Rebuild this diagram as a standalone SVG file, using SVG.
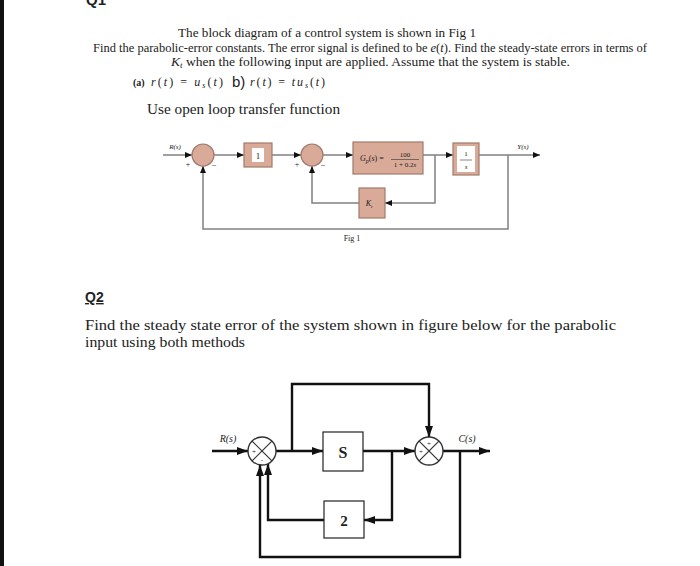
<svg xmlns="http://www.w3.org/2000/svg" width="700" height="566" viewBox="0 0 700 566">
<style>
  .t { font-family: "Liberation Serif", "Times New Roman", serif; fill: #222; }
  .it { font-style: italic; }
  .b { font-weight: bold; }
  .sans { font-family: "Liberation Sans", Arial, sans-serif; }
  .f1line { stroke: #808080; stroke-width: 1.5; fill: none; }
  .f1blk { fill: #d9aa98; stroke: #a07a6c; stroke-width: 1.2; }
  .f1in { fill: #ffffff; stroke: none; }
  .q2line { stroke: #111; stroke-width: 2.4; fill: none; }
  .q2blk { fill: #ffffff; stroke: #222; stroke-width: 1.2; }
  .q2sum { fill: #ffffff; stroke: #333; stroke-width: 1.4; }
</style>
<defs>
  <marker id="a1" markerUnits="userSpaceOnUse" markerWidth="7" markerHeight="6" refX="7" refY="3" orient="auto">
    <path d="M0,0 L7,3 L0,6 z" fill="#111"/>
  </marker>
  <marker id="a2" markerUnits="userSpaceOnUse" markerWidth="11" markerHeight="8" refX="11" refY="4" orient="auto">
    <path d="M0,0 L11,4 L0,8 z" fill="#111"/>
  </marker>
</defs>
<rect x="0" y="0" width="700" height="566" fill="#ffffff"/>
<rect x="0" y="0" width="4" height="566" fill="#111"/>

<!-- Q1 text -->
<text class="t b sans" x="86" y="5" font-size="15">Q1</text>
<text class="t" x="178" y="37" font-size="12" textLength="298" lengthAdjust="spacingAndGlyphs">The block diagram of a control system is shown in Fig 1</text>
<text class="t" x="93" y="52" font-size="12" textLength="554" lengthAdjust="spacingAndGlyphs">Find the parabolic-error constants. The error signal is defined to be <tspan class="it">e</tspan>(<tspan class="it">t</tspan>). Find the steady-state errors in terms of</text>
<text class="t" x="171" y="66" font-size="12" textLength="399" lengthAdjust="spacingAndGlyphs"><tspan class="it">K</tspan><tspan class="it" font-size="8" dy="2">t</tspan><tspan dy="-2"> when the following input  are applied. Assume that the system is stable.</tspan></text>
<text class="t b" x="133" y="86" font-size="10">(a)</text>
<text class="t" x="151" y="86" font-size="12" textLength="72" lengthAdjust="spacing"><tspan class="it">r</tspan>(<tspan class="it">t</tspan>) = <tspan class="it">u</tspan><tspan class="it" font-size="8" dy="2">s</tspan><tspan dy="-2">(</tspan><tspan class="it">t</tspan>)</text>
<text class="t sans" x="232" y="87" font-size="15">b)</text>
<text class="t" x="250" y="86" font-size="12" textLength="75" lengthAdjust="spacing"><tspan class="it">r</tspan>(<tspan class="it">t</tspan>) = <tspan class="it">tu</tspan><tspan class="it" font-size="8" dy="2">s</tspan><tspan dy="-2">(</tspan><tspan class="it">t</tspan>)</text>
<text class="t" x="147" y="114" font-size="15.5" textLength="193" lengthAdjust="spacingAndGlyphs">Use open loop transfer function</text>

<!-- Fig 1 connectors -->
<g id="fig1-connectors">
  <line class="f1line" x1="163" y1="155" x2="192" y2="155" marker-end="url(#a1)"/>
  <line class="f1line" x1="214" y1="155" x2="244" y2="155" marker-end="url(#a1)"/>
  <line class="f1line" x1="272" y1="155" x2="301" y2="155" marker-end="url(#a1)"/>
  <line class="f1line" x1="323" y1="155" x2="353" y2="155" marker-end="url(#a1)"/>
  <line class="f1line" x1="423" y1="155" x2="453" y2="155" marker-end="url(#a1)"/>
  <line class="f1line" x1="479" y1="155" x2="540" y2="155" marker-end="url(#a1)"/>
  <polyline class="f1line" points="435,155 435,203 385,203" marker-end="url(#a1)"/>
  <polyline class="f1line" points="359,203 312,203 312,166" marker-end="url(#a1)"/>
  <polyline class="f1line" points="508,155 508,229 203,229 203,166" marker-end="url(#a1)"/>
</g>
<g id="fig1-sum1">
  <circle class="f1blk" cx="203" cy="155" r="11"/>
  <text class="t" x="188" y="167" font-size="8" text-anchor="middle">+</text>
  <text class="t" x="214" y="167" font-size="8" text-anchor="middle">–</text>
</g>
<g id="fig1-gain1">
  <rect class="f1blk" x="244" y="143" width="28" height="24"/>
  <rect class="f1in" x="252" y="148" width="12" height="14"/>
  <text class="t" x="258" y="159" font-size="9" text-anchor="middle">1</text>
</g>
<g id="fig1-sum2">
  <circle class="f1blk" cx="312" cy="155" r="11"/>
  <text class="t" x="297" y="167" font-size="8" text-anchor="middle">+</text>
  <text class="t" x="323" y="167" font-size="8" text-anchor="middle">–</text>
</g>
<g id="fig1-gp">
  <rect class="f1blk" x="353" y="142" width="70" height="32"/>
  <text class="t" x="360" y="161" font-size="8"><tspan class="it">G</tspan><tspan class="it" font-size="6" dy="2">p</tspan><tspan dy="-2">(</tspan><tspan class="it">s</tspan><tspan>) =</tspan></text>
  <text class="t" x="405" y="157" font-size="7" text-anchor="middle">100</text>
  <line x1="391" y1="159.5" x2="419" y2="159.5" stroke="#333" stroke-width="0.6"/>
  <text class="t" x="405" y="167" font-size="7" text-anchor="middle">1 + 0.2<tspan class="it">s</tspan></text>
</g>
<g id="fig1-integrator">
  <rect class="f1blk" x="453" y="143" width="26" height="32"/>
  <rect class="f1in" x="457" y="146" width="18" height="26"/>
  <text class="t" x="466" y="156" font-size="7" text-anchor="middle">1</text>
  <line x1="460" y1="160" x2="472" y2="160" stroke="#333" stroke-width="0.6"/>
  <text class="t it" x="466" y="169" font-size="7" text-anchor="middle">s</text>
</g>
<g id="fig1-kt">
  <rect class="f1blk" x="359" y="188" width="26" height="30"/>
  <text class="t" x="369" y="206" font-size="8" text-anchor="middle"><tspan class="it">K</tspan><tspan class="it" font-size="5" dy="2">t</tspan></text>
</g>
<g id="fig1-labels">
  <text class="t it" x="175" y="149" font-size="7" text-anchor="middle">R(s)</text>
  <text class="t it" x="523" y="149" font-size="7" text-anchor="middle">Y(s)</text>
  <text class="t" x="352" y="241" font-size="8" text-anchor="middle">Fig 1</text>
</g>

<!-- Q2 text -->
<text class="t b sans" x="85" y="302" font-size="14" text-decoration="underline">Q2</text>
<text class="t" x="85" y="330" font-size="15" textLength="531" lengthAdjust="spacingAndGlyphs">Find the steady state error of the system shown in figure below for the parabolic</text>
<text class="t" x="85" y="347" font-size="15" textLength="160" lengthAdjust="spacingAndGlyphs">input using both methods</text>

<!-- Q2 connectors -->
<g id="q2-connectors">
  <line class="q2line" x1="212" y1="451" x2="248" y2="451" marker-end="url(#a2)"/>
  <line class="q2line" x1="276" y1="451" x2="323" y2="451" marker-end="url(#a2)"/>
  <polyline class="q2line" points="292,451 292,384 429,384 429,437" marker-end="url(#a2)"/>
  <line class="q2line" x1="363" y1="451" x2="415" y2="451" marker-end="url(#a2)"/>
  <polyline class="q2line" points="392,451 392,520 364,520" marker-end="url(#a2)"/>
  <polyline class="q2line" points="324,520 268,520 268,464" marker-end="url(#a2)"/>
  <line class="q2line" x1="443" y1="451" x2="490" y2="451" marker-end="url(#a2)"/>
  <polyline class="q2line" points="460,451 460,557 260,557 260,465" marker-end="url(#a2)"/>
</g>
<g id="q2-sum1">
  <circle class="q2sum" cx="262" cy="451" r="14"/>
  <line x1="252.1" y1="441.1" x2="271.9" y2="460.9" stroke="#333" stroke-width="1.2"/>
  <line x1="271.9" y1="441.1" x2="252.1" y2="460.9" stroke="#333" stroke-width="1.2"/>
  <text class="t" x="254" y="454" font-size="7" text-anchor="middle">+</text>
  <text class="t" x="262" y="462" font-size="7" text-anchor="middle">-</text>
</g>
<g id="q2-s">
  <rect class="q2blk" x="323" y="432" width="40" height="39"/>
  <text class="t b" x="343" y="458" font-size="16" text-anchor="middle">S</text>
</g>
<g id="q2-sum2">
  <circle class="q2sum" cx="429" cy="451" r="14"/>
  <line x1="419.1" y1="441.1" x2="438.9" y2="460.9" stroke="#333" stroke-width="1.2"/>
  <line x1="438.9" y1="441.1" x2="419.1" y2="460.9" stroke="#333" stroke-width="1.2"/>
  <text class="t" x="429" y="446" font-size="7" text-anchor="middle">+</text>
  <text class="t" x="421" y="454" font-size="7" text-anchor="middle">+</text>
</g>
<g id="q2-gain2">
  <rect class="q2blk" x="324" y="501" width="40" height="37"/>
  <text class="t b" x="344" y="526" font-size="15" text-anchor="middle">2</text>
</g>
<g id="q2-labels">
  <text class="t it" x="228" y="442" font-size="10" text-anchor="middle">R(s)</text>
  <text class="t it" x="467" y="442" font-size="10" text-anchor="middle">C(s)</text>
</g>
</svg>
